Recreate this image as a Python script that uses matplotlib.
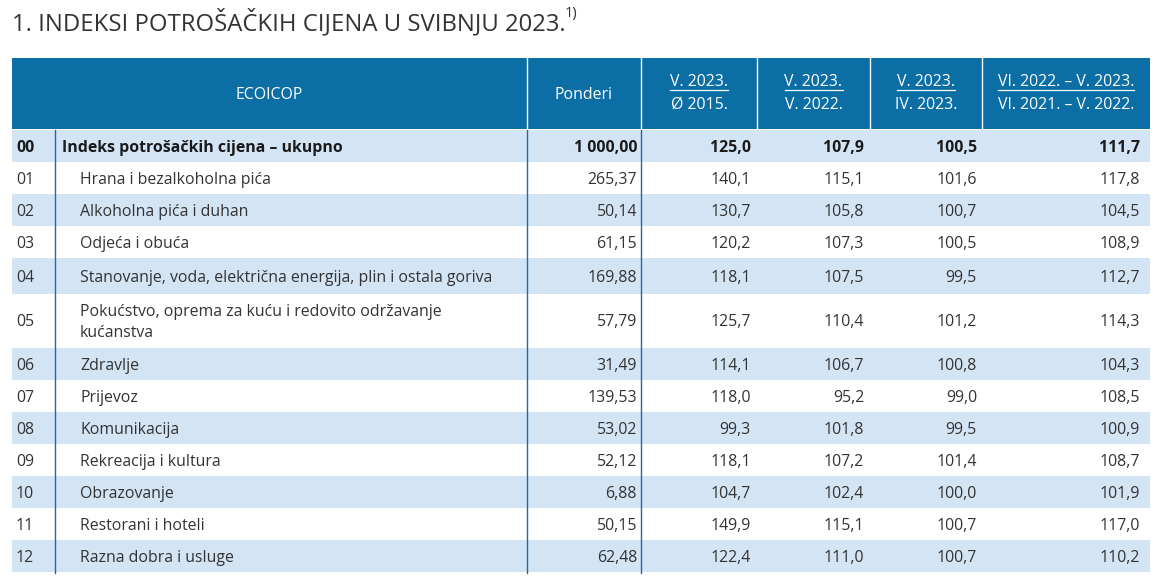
import matplotlib
matplotlib.use("Agg")
import matplotlib.pyplot as plt
from matplotlib.patches import Rectangle

title = "1. INDEKSI POTROŠAČKIH CIJENA U SVIBNJU 2023."
title_sup = "1)"
col_headers = ["ECOICOP", "Ponderi"]
frac_headers = [("V. 2023.", "Ø 2015."), ("V. 2023.", "V. 2022."),
                ("V. 2023.", "IV. 2023."), ("VI. 2022. – V. 2023.", "VI. 2021. – V. 2022.")]
codes = ["00", "01", "02", "03", "04", "05", "06", "07", "08", "09", "10", "11", "12"]
names = ["Indeks potrošačkih cijena – ukupno",
         "Hrana i bezalkoholna pića",
         "Alkoholna pića i duhan",
         "Odjeća i obuća",
         "Stanovanje, voda, električna energija, plin i ostala goriva",
         "Pokućstvo, oprema za kuću i redovito održavanje\nkućanstva",
         "Zdravlje",
         "Prijevoz",
         "Komunikacija",
         "Rekreacija i kultura",
         "Obrazovanje",
         "Restorani i hoteli",
         "Razna dobra i usluge"]
ponderi = ["1 000,00", "265,37", "50,14", "61,15", "169,88", "57,79", "31,49",
           "139,53", "53,02", "52,12", "6,88", "50,15", "62,48"]
idx_2015 = ["125,0", "140,1", "130,7", "120,2", "118,1", "125,7", "114,1",
            "118,0", "99,3", "118,1", "104,7", "149,9", "122,4"]
idx_yoy = ["107,9", "115,1", "105,8", "107,3", "107,5", "110,4", "106,7",
           "95,2", "101,8", "107,2", "102,4", "115,1", "111,0"]
idx_mom = ["100,5", "101,6", "100,7", "100,5", "99,5", "101,2", "100,8",
           "99,0", "99,5", "101,4", "100,0", "100,7", "100,7"]
idx_12m = ["111,7", "117,8", "104,5", "108,9", "112,7", "114,3", "104,3",
           "108,5", "100,9", "108,7", "101,9", "117,0", "110,2"]

W, H = 1172, 585
fig = plt.figure(figsize=(W / 100, H / 100), dpi=100)
ax = fig.add_axes([0, 0, 1, 1])
ax.set_xlim(0, W)
ax.set_ylim(H, 0)
ax.axis("off")

FONT = ["Open Sans", "DejaVu Sans"]
HDR = "#0b6ea5"
BAND = "#d3e4f5"
TXT = "#333333"
BTXT = "#1a1a1a"
LINE = "#1f6aa0"
FS = 11.4
DY = 1.5

x0, x1 = 12, 1150
hy0, hy1 = 58, 129
col_edges = [x0, 527, 641, 757, 870, 982, x1]
row_edges = [130, 162, 194, 226, 258, 294, 348, 380, 412, 444, 476, 508, 540, 572]

# Title
t = ax.text(x0, 23, title, fontsize=17.2, color=TXT, va="center", ha="left", family=FONT)
fig.canvas.draw()
r = fig.canvas.get_renderer()
bb = t.get_window_extent(r)
inv = ax.transData.inverted()
tx1 = inv.transform([(bb.x1, 0)])[0][0]
ax.text(tx1 - 1, 14, title_sup, fontsize=10.5, color=TXT, va="center", ha="left", family=FONT)

# Header
ax.add_patch(Rectangle((x0, hy0), x1 - x0, hy1 - hy0, facecolor=HDR, edgecolor="none"))
for xe in col_edges[1:-1]:
    ax.plot([xe, xe], [hy0, hy1], color="white", lw=1)
hc = (hy0 + hy1) / 2 + DY
ax.text((col_edges[0] + col_edges[1]) / 2, hc, col_headers[0], color="white",
        fontsize=FS, ha="center", va="center", family=FONT)
ax.text((col_edges[1] + col_edges[2]) / 2, hc, col_headers[1], color="white",
        fontsize=FS, ha="center", va="center", family=FONT)
for i, (top, bot) in enumerate(frac_headers):
    cx = (col_edges[i + 2] + col_edges[i + 3]) / 2
    tt = ax.text(cx, 82, top, color="white", fontsize=FS, ha="center", va="center", family=FONT)
    ax.text(cx, 105, bot, color="white", fontsize=FS, ha="center", va="center", family=FONT)
    fig.canvas.draw()
    b = tt.get_window_extent(fig.canvas.get_renderer())
    (lx0, _), (lx1, _) = inv.transform([(b.x0, 0), (b.x1, 0)])
    ax.plot([lx0, lx1], [89.5, 89.5], color="white", lw=0.9)

# Body
for i in range(len(codes)):
    y0r, y1r = row_edges[i], row_edges[i + 1]
    if i % 2 == 0:
        ax.add_patch(Rectangle((x0, y0r), x1 - x0, y1r - y0r, facecolor=BAND, edgecolor="none"))
    yc = (y0r + y1r) / 2 + DY
    bold = (i == 0)
    fw = "bold" if bold else "normal"
    col = BTXT if bold else TXT
    ax.text(16, yc, codes[i], color=col, fontsize=FS,
            fontweight=fw, ha="left", va="center", family=FONT)
    ax.text(62 if bold else 80, yc, names[i], color=col,
            fontsize=FS, fontweight=fw, ha="left", va="center", family=FONT,
            linespacing=1.35)
    vals = [ponderi[i], idx_2015[i], idx_yoy[i], idx_mom[i], idx_12m[i]]
    rights = [637, 751, 864, 977, 1140]
    for v, xr in zip(vals, rights):
        ax.text(xr, yc, v, color=col, fontsize=FS,
                fontweight=fw, ha="right", va="center", family=FONT)

for xe in [55, 527, 641]:
    ax.plot([xe, xe], [row_edges[0], row_edges[-1] + 1], color=LINE, lw=1)

fig.savefig("out.png", dpi=100)
